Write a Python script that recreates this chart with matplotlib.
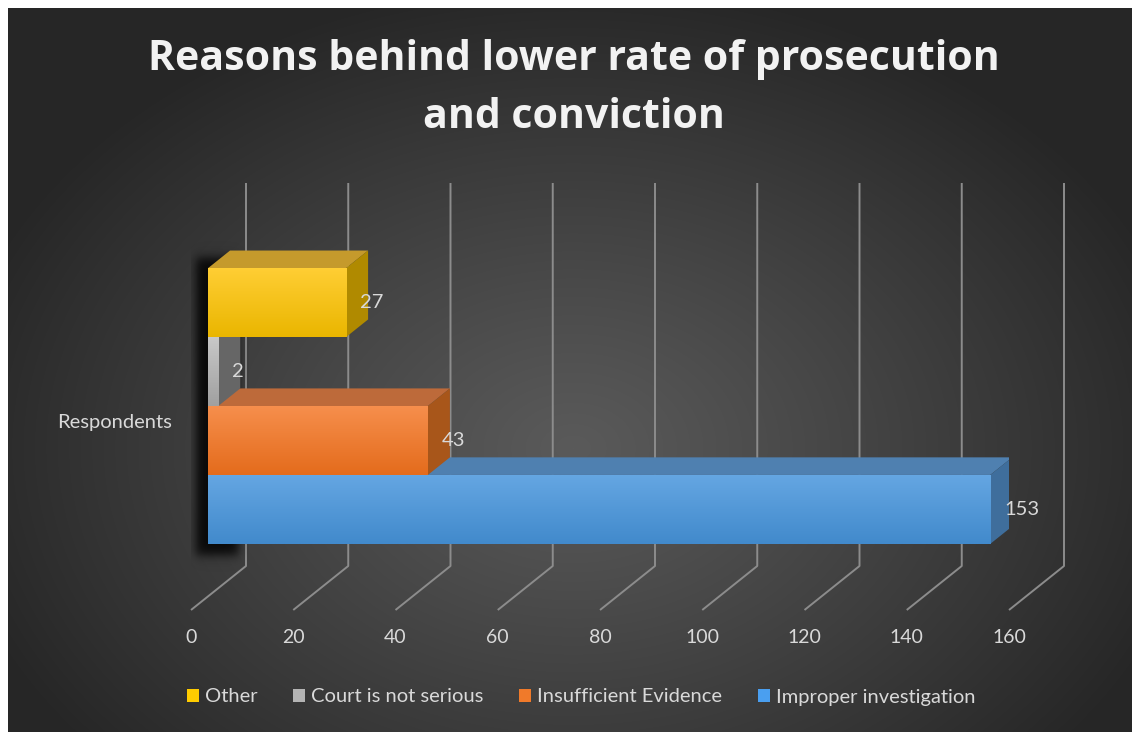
import numpy as np
import matplotlib
matplotlib.use("Agg")
from matplotlib import pyplot as plt
from matplotlib.patches import Polygon, Rectangle, Patch

# survey answers, listed bottom row first
reasons = ['Improper investigation', 'Insufficient Evidence', 'Court is not serious', 'Other']
respondents = [153, 43, 2, 27]
category = 'Respondents'
ticks = list(range(0, 161, 20))

front_cols = [((100, 166, 226), (66, 138, 204)),
              ((246, 142, 76), (228, 108, 28)),
              ((200, 200, 200), (160, 160, 160)),
              ((255, 206, 52), (234, 182, 0))]
key_cols = ['#4a9ff0', '#f07a2a', '#b4b4b4', '#ffcc00']
top_cols = ['#4f80b0', '#bd6a3a', '#8a8a8a', '#c59a2c']
side_cols = ['#3f6e9c', '#a8561a', '#666666', '#b08a00']

W, H = 1132, 732
DX, DY = 55 / 818 * 160, 44 / 383      # one unit of depth, in data units
Z0, Z1 = 0.31, 0.71                     # bar front / back depth
BAR_H = 0.18
GROUP_C = 0.497
TXT = '#d9d9d9'


def pt(v, y, z):
   return (v + z * DX, y + z * DY)


def soft_step(u, a, b, s):
   return 0.25 * (1 + np.tanh((u - a) / s)) * (1 - np.tanh((u - b) / s))


fig = plt.figure(figsize=(W / 100, H / 100), dpi=100, facecolor='white')
plt.rcParams['font.family'] = ['Lato', 'DejaVu Sans']

# dark radial backdrop
bg = fig.add_axes([8 / W, 0, 1 - 8 / W, 1 - 8 / H])
yy, xx = np.mgrid[0:H - 8, 0:W - 8]
r = np.sqrt(((xx - 565) / 640.) ** 2 + ((yy - 440) / 470.) ** 2)
shade = 90 - 52 * np.clip(r, 0, 1) ** 1.1
bg.imshow(np.dstack([shade] * 3) / 255., aspect='auto', interpolation='bilinear')
bg.set_axis_off()

ax = fig.add_axes([191 / W, (H - 610) / H, 818 / W, 383 / H])
ax.patch.set_alpha(0)
for s in ax.spines.values():
   s.set_visible(False)

# back wall gridlines and floor lines
for t in ticks:
   xs, ys = zip(pt(t, 1, 1), pt(t, 0, 1), pt(t, 0, 0))
   ax.plot(xs, ys, color='#8c8c8c', lw=1.4, solid_capstyle='butt', zorder=1, clip_on=False)

n = len(respondents)
bottoms = [GROUP_C - n / 2 * BAR_H + i * BAR_H for i in range(n)]

# blurred shadow cast to the left of and below the bar block
lx, ly = pt(0, bottoms[0], Z0)
_, hy = pt(0, bottoms[-1] + BAR_H, Z0)
gx = np.linspace(lx - 6, lx + 8, 80)
gy = np.linspace(ly - 0.08, hy + 0.09, 200)
ax_ = soft_step(gx, lx - 2.4, lx + 6, 1.1)
ay_ = soft_step(gy, ly - 0.03, hy + 0.03, 0.016)
sh = np.zeros((len(gy), len(gx), 4))
sh[..., 3] = 0.85 * np.outer(ay_, ax_)
ax.imshow(sh, extent=(gx[0], gx[-1], gy[0], gy[-1]), origin='lower', aspect='auto',
          interpolation='bilinear', zorder=2)

for i in range(n):
   v, y0 = respondents[i], bottoms[i]
   y1 = y0 + BAR_H
   zb = 3 + i * 0.1
   top = Polygon([pt(0, y1, Z0), pt(v, y1, Z0), pt(v, y1, Z1), pt(0, y1, Z1)],
                 closed=True, facecolor=top_cols[i], edgecolor='none', zorder=zb)
   side = Polygon([pt(v, y0, Z0), pt(v, y1, Z0), pt(v, y1, Z1), pt(v, y0, Z1)],
                  closed=True, facecolor=side_cols[i], edgecolor='none', zorder=zb)
   ax.add_patch(top)
   ax.add_patch(side)
   fx0, fy0 = pt(0, y0, Z0)
   fx1, fy1 = pt(v, y1, Z0)
   front = Rectangle((fx0, fy0), fx1 - fx0, fy1 - fy0, facecolor='none',
                     edgecolor='none', zorder=zb)
   ax.add_patch(front)
   c_top, c_bot = np.array(front_cols[i][0]), np.array(front_cols[i][1])
   f = np.linspace(0, 1, 64)[:, None]
   grad = (c_top * (1 - f) + c_bot * f) / 255.
   im = ax.imshow(grad[:, None, :].repeat(2, axis=1), extent=(fx0, fx1, fy0, fy1),
                  aspect='auto', origin='upper', interpolation='bilinear', zorder=zb)
   im.set_clip_path(front)
   ax.annotate(str(v), (fx1, (fy0 + fy1) / 2), xytext=(10, 0), textcoords='offset points',
               ha='left', va='center', color=TXT, fontsize=14.5, zorder=10)

ax.text(-0.023, 0.49, category, transform=ax.transAxes, ha='right', va='center',
        color=TXT, fontsize=14.5)

ax.set_xlim(0, 160)
ax.set_ylim(0, 1)
ax.set_xticks(ticks)
ax.set_xticklabels([str(t) for t in ticks], color=TXT, fontsize=14)
ax.tick_params(axis='x', length=0, pad=14)
ax.set_yticks([])

title_font = dict(ha='center', va='center', color='#f2f2f2', fontsize=29.5,
                  fontweight='bold', family=['Open Sans', 'DejaVu Sans'])
fig.text(0.507, 1 - 60 / H, 'Reasons behind lower rate of prosecution', **title_font)
fig.text(0.507, 1 - 117 / H, 'and conviction', **title_font)

handles = [Patch(facecolor=key_cols[i], edgecolor='none', label=reasons[i])
           for i in range(n - 1, -1, -1)]
leg = fig.legend(handles=handles, loc='center', bbox_to_anchor=(0.5135, 1 - 697 / H), ncol=4,
                 frameon=False, fontsize=14.5, handlelength=0.6, handleheight=0.6,
                 handletextpad=0.3, columnspacing=1.77)
for t in leg.get_texts():
   t.set_color(TXT)

fig.savefig('out.png', dpi=100, facecolor=fig.get_facecolor())
